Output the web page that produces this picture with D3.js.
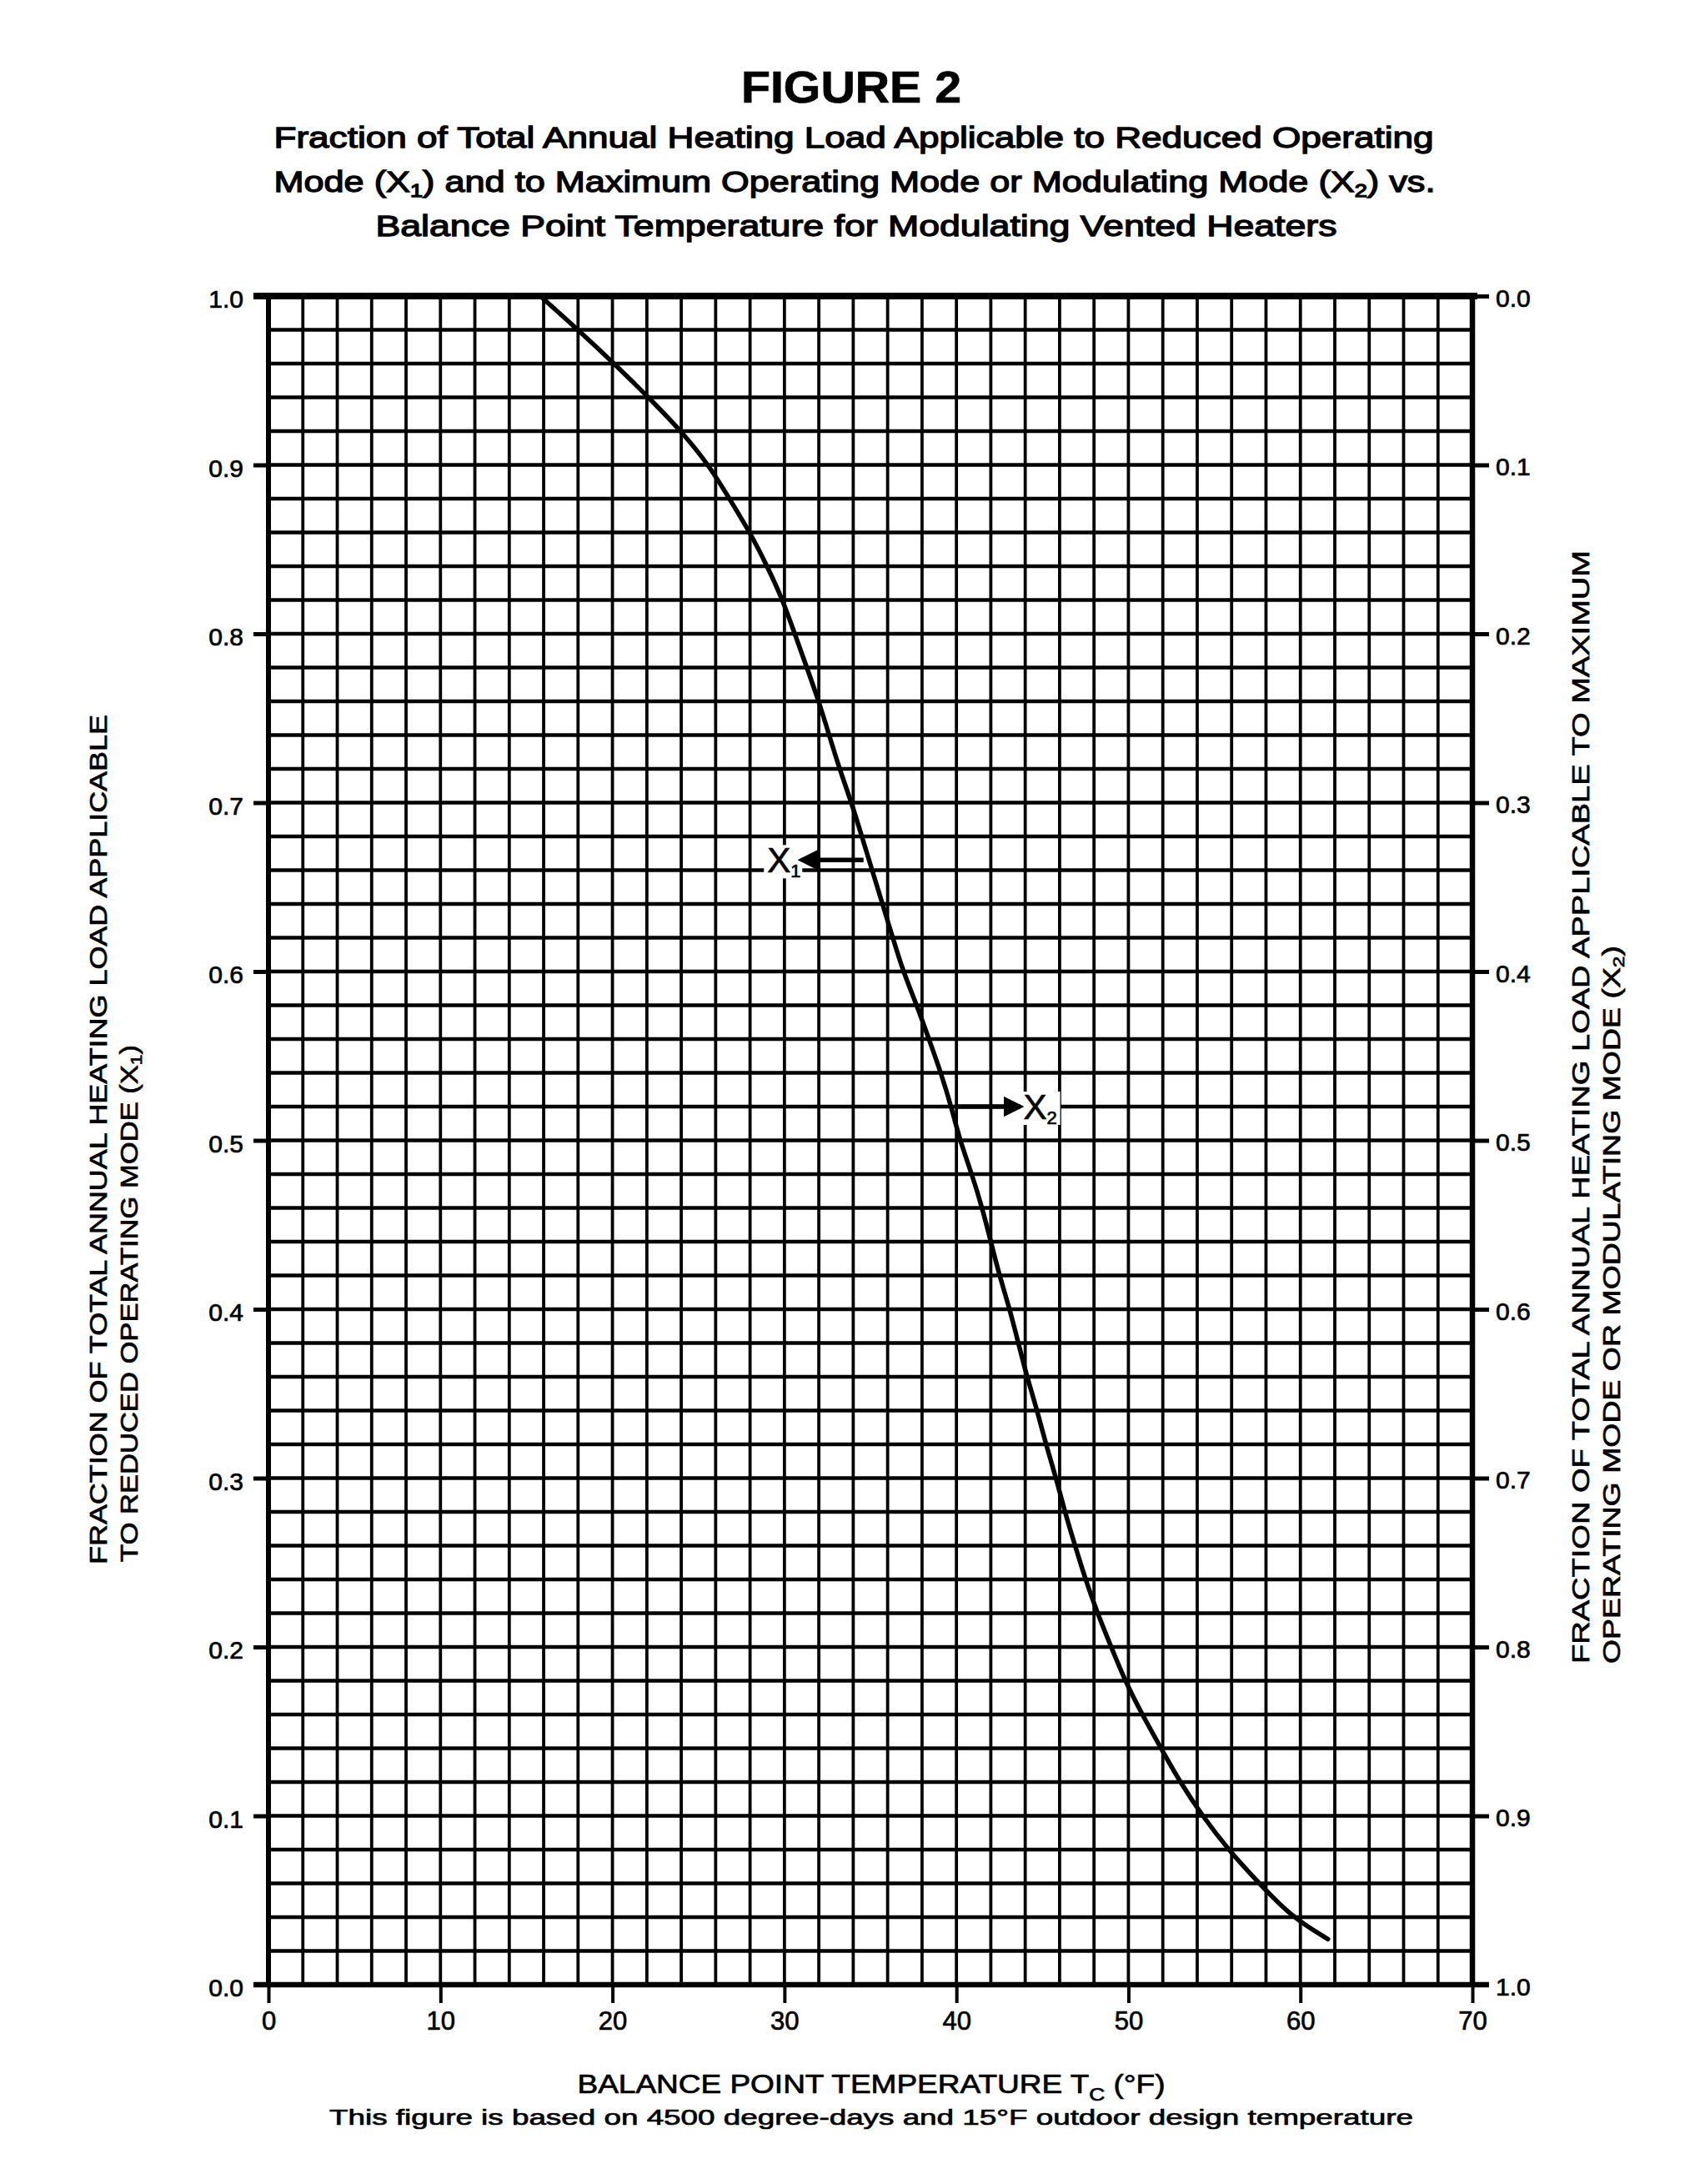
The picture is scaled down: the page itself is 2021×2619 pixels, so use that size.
<!DOCTYPE html>
<html><head><meta charset="utf-8">
<script src="https://cdn.jsdelivr.net/npm/d3@7"></script>
<style>body{margin:0;background:#fff}svg{display:block}text{font-family:"Liberation Sans",Arial,sans-serif;fill:#000;stroke:#000;stroke-width:0.7px}</style>
</head><body>
<svg id="c" width="2021" height="2619"></svg>
<script>
// ---- data ----
const temperatureF = [15.8,18.0,20.1,22.1,24.0,25.6,26.8,28.0,29.0,29.9,30.6,31.3,32.0,32.6,33.2,33.9,34.5,35.1,35.7,36.3,36.9,37.7,38.4,39.1,39.7,40.2,40.9,41.5,42.0,42.5,43.1,43.6,44.1,44.7,45.2,45.8,46.3,46.9,47.5,48.2,49.0,49.8,50.8,51.9,53.0,54.3,55.8,57.6,59.5,61.6];
const fractionX1 = [1.00,0.98,0.96,0.94,0.92,0.90,0.88,0.86,0.84,0.82,0.80,0.78,0.76,0.74,0.72,0.70,0.68,0.66,0.64,0.62,0.60,0.58,0.56,0.54,0.52,0.50,0.48,0.46,0.44,0.42,0.40,0.38,0.36,0.34,0.32,0.30,0.28,0.26,0.24,0.22,0.20,0.18,0.16,0.14,0.12,0.10,0.08,0.06,0.04,0.027];
const xTickValues = [0,10,20,30,40,50,60,70];
const xTickLabels = ["0","10","20","30","40","50","60","70"];
const yTickValues = [0,0.1,0.2,0.3,0.4,0.5,0.6,0.7,0.8,0.9,1.0];
const leftTickLabels = ["0.0","0.1","0.2","0.3","0.4","0.5","0.6","0.7","0.8","0.9","1.0"];
const rightTickLabels = ["0.0","0.1","0.2","0.3","0.4","0.5","0.6","0.7","0.8","0.9","1.0"];
const gridXStep = [0,2,4,6,8,10,12,14,16,18,20,22,24,26,28,30,32,34,36,38,40,42,44,46,48,50,52,54,56,58,60,62,64,66,68,70];
const gridYStep = [0,0.02,0.04,0.06,0.08,0.1,0.12,0.14,0.16,0.18,0.2,0.22,0.24,0.26,0.28,0.3,0.32,0.34,0.36,0.38,0.4,0.42,0.44,0.46,0.48,0.5,0.52,0.54,0.56,0.58,0.6,0.62,0.64,0.66,0.68,0.7,0.72,0.74,0.76,0.78,0.8,0.82,0.84,0.86,0.88,0.9,0.92,0.94,0.96,0.98,1.0];
// annotation arrows: [label, subscript, y, arrow from x, arrow to x, label x]
const annX1 = ["X","1",0.666,34.6,31.0,29.0];
const annX2 = ["X","2",0.520,39.9,43.7,43.9];
const titleMain = "FIGURE 2";
const subtitle1 = "Fraction of Total Annual Heating Load Applicable to Reduced Operating";
const subtitle3 = "Balance Point Temperature for Modulating Vented Heaters";
const xTitle = "BALANCE POINT TEMPERATURE T";
const footnote = "This figure is based on 4500 degree-days and 15\u00B0F outdoor design temperature";
const leftTitle1 = "FRACTION OF TOTAL ANNUAL HEATING LOAD APPLICABLE";
const leftTitle2 = "TO REDUCED OPERATING MODE (X";
const rightTitle1 = "FRACTION OF TOTAL ANNUAL HEATING LOAD APPLICABLE TO MAXIMUM";
const rightTitle2 = "OPERATING MODE OR MODULATING MODE (X";

// ---- layout ----
const L = 322, R = 1766, T = 355, B = 2380;
const svg = d3.select("#c");
svg.append("rect").attr("width",2021).attr("height",2619).attr("fill","#fff");
const x = d3.scaleLinear().domain([0,70]).range([L,R]);
const y = d3.scaleLinear().domain([0,1]).range([B,T]);
const yR = d3.scaleLinear().domain([0,1]).range([T,B]);

// grid
const g = svg.append("g");
g.selectAll("line.v").data(gridXStep).join("line")
  .attr("x1",d=>x(d)).attr("x2",d=>x(d)).attr("y1",T).attr("y2",B)
  .attr("stroke","#000").attr("stroke-width",3.8);
g.selectAll("line.h").data(gridYStep).join("line")
  .attr("x1",L).attr("x2",R).attr("y1",d=>y(d)).attr("y2",d=>y(d))
  .attr("stroke","#000").attr("stroke-width",4.6);
// borders
g.append("line").attr("x1",L-18).attr("x2",R+6).attr("y1",T).attr("y2",T).attr("stroke","#000").attr("stroke-width",8);
g.append("line").attr("x1",L-18).attr("x2",R+20).attr("y1",B).attr("y2",B).attr("stroke","#000").attr("stroke-width",6.5);
g.append("line").attr("x1",L).attr("x2",L).attr("y1",T).attr("y2",B).attr("stroke","#000").attr("stroke-width",6);
g.append("line").attr("x1",R).attr("x2",R).attr("y1",T).attr("y2",B).attr("stroke","#000").attr("stroke-width",6.5);

// axes
function styleAxis(sel, w){
  sel.select(".domain").remove();
  sel.selectAll(".tick line").attr("stroke","#000").attr("stroke-width",w);
  sel.selectAll(".tick text").attr("font-size",30).attr("font-family","Liberation Sans, Arial, sans-serif").attr("fill","#000");
}
const axL = svg.append("g").attr("transform",`translate(${L},0)`)
  .call(d3.axisLeft(y).tickValues(yTickValues).tickSize(18).tickPadding(12).tickFormat((d,i)=>leftTickLabels[i]));
styleAxis(axL,5);
axL.selectAll(".tick text").attr("dy","0.45em");
const axR = svg.append("g").attr("transform",`translate(${R},0)`)
  .call(d3.axisRight(yR).tickValues(yTickValues).tickSize(20).tickPadding(8).tickFormat((d,i)=>rightTickLabels[i]));
styleAxis(axR,5);
axR.selectAll(".tick text").attr("dy","0.4em");
const axB = svg.append("g").attr("transform",`translate(0,${B})`)
  .call(d3.axisBottom(x).tickValues(xTickValues).tickSize(22).tickPadding(10).tickFormat((d,i)=>xTickLabels[i]));
styleAxis(axB,4);
axB.selectAll(".tick text").attr("font-size",31);

// curve
const pts = temperatureF.map((t,i)=>[t,fractionX1[i]]);
svg.append("path").datum(pts)
  .attr("d", d3.line().x(d=>x(d[0])).y(d=>y(d[1])).curve(d3.curveBasis))
  .attr("fill","none").attr("stroke","#000").attr("stroke-width",5.5).attr("stroke-linejoin","round").attr("stroke-linecap","round");

// arrow marker
svg.append("defs").append("marker").attr("id","ah").attr("viewBox","0 0 10 10")
  .attr("refX",8).attr("refY",5).attr("markerWidth",4.5).attr("markerHeight",4.5).attr("orient","auto")
  .append("path").attr("d","M0,0 L10,5 L0,10 z").attr("fill","#000");

function backing(a, w){
  const [lab,sub,yy,xa,xb,xl] = a;
  svg.append("rect").attr("x",x(xl)-4).attr("y",y(yy)-18).attr("width",w).attr("height",40).attr("fill","#fff");
}
function annotate(a){
  const [lab,sub,yy,xa,xb,xl] = a;
  svg.append("line").attr("x1",x(xa)).attr("x2",x(xb)).attr("y1",y(yy)).attr("y2",y(yy))
    .attr("stroke","#000").attr("stroke-width",5.5).attr("marker-end","url(#ah)");
  const t = svg.append("text").attr("x",x(xl)).attr("y",y(yy)+15).attr("font-size",42);
  t.append("tspan").text(lab);
  t.append("tspan").attr("font-size",22).attr("dy",6).text(sub);
}
backing(annX1,46); backing(annX2,48);
annotate(annX1); annotate(annX2);

// titles
function txt(xp,yp,s,fs,opts={}){
  const t = svg.append("text").attr("x",xp).attr("y",yp).attr("font-size",fs)
    .attr("text-anchor",opts.anchor||"middle");
  if(opts.weight) t.attr("font-weight",opts.weight);
  if(s!==null) t.text(s);
  if(opts.len) t.attr("textLength",opts.len).attr("lengthAdjust","spacingAndGlyphs");
  return t;
}
txt(1021,123,titleMain,53,{weight:"bold",len:264});
txt(1024,177,subtitle1,35,{len:1391}).style("stroke-width","1.3px");
const s2 = txt(1025,230,null,35,{len:1393}).style("stroke-width","1.3px");
s2.append("tspan").text("Mode (X");
s2.append("tspan").attr("font-size",22).attr("dy",6).text("1");
s2.append("tspan").attr("dy",-6).text(") and to Maximum Operating Mode or Modulating Mode (X");
s2.append("tspan").attr("font-size",22).attr("dy",6).text("2");
s2.append("tspan").attr("dy",-6).text(") vs.");
txt(1027,283,subtitle3,35,{len:1153}).style("stroke-width","1.3px");

const xt = txt(1045,2510,null,31,{len:705});
xt.append("tspan").text(xTitle);
xt.append("tspan").attr("font-size",22).attr("dy",9).text("C");
xt.append("tspan").attr("dy",-9).text("  (\u00B0F)");
txt(1045,2548,footnote,26,{len:1300});

// rotated titles
function rot(xp,yp,parts,fs,len){
  const t = svg.append("text").attr("transform",`translate(${xp},${yp}) rotate(-90)`)
    .attr("font-size",fs).attr("text-anchor","start").attr("textLength",len).attr("lengthAdjust","spacingAndGlyphs");
  parts.forEach(p=>{
    const ts = t.append("tspan").text(p[0]);
    if(p[1]) ts.attr("font-size",p[1]);
    if(p[2]) ts.attr("dy",p[2]);
  });
  return t;
}
rot(128,1876,[[leftTitle1]],29,1019);
rot(165,1873,[[leftTitle2],["1",19,5],[")",null,-5]],29,620);
rot(1906,1995,[[rightTitle1]],29,1335);
rot(1943,1995,[[rightTitle2],["2",19,5],[")",null,-5]],29,861);
</script>
</body></html>
